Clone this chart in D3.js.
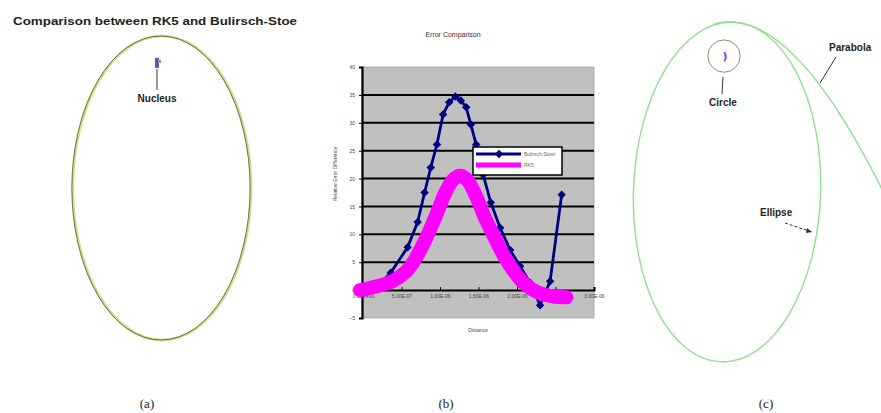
<!DOCTYPE html>
<html>
<head>
<meta charset="utf-8">
<script src="https://cdn.jsdelivr.net/npm/d3@7"></script>
<style>
  body { margin: 0; background: #fff; }
  svg { display: block; }
  .tiny text { font-family: "Liberation Sans", Arial, sans-serif; }
</style>
</head>
<body>
<svg width="881" height="413"></svg>
<script>
// ---- data ----
// panel (b): error comparison, x in units of 1e-6
var xTicks = [0, 0.5, 1, 1.5, 2, 2.5, 3];
var xTickLabels = ["0.00E+00", "5.00E-07", "1.00E-06", "1.50E-06", "2.00E-06", "2.50E-06", "3.00E-06"];
var yTicks = [-5, 0, 5, 10, 15, 20, 25, 30, 35, 40];
var seriesNames = ["Bulirsch-Stoer", "RK5"];

var bsX = [0.16, 0.36, 0.58, 0.71, 0.8, 0.88, 0.96, 1.04, 1.12, 1.2, 1.27, 1.34, 1.4, 1.47, 1.56, 1.66, 1.78, 1.91, 2.04, 2.17, 2.3, 2.43, 2.58];
var bsY = [0.2, 3.1, 7.7, 12.2, 17.5, 22, 26.1, 31.5, 33.7, 34.7, 34, 32.8, 29.7, 26.1, 20.7, 15.7, 11.2, 7.2, 4.3, 1.3, -2.7, 1.6, 17.1];

var rkX = [-0.04, 0.18, 0.38, 0.55, 0.68, 0.81, 0.94, 1.07, 1.17, 1.26, 1.35, 1.46, 1.58, 1.71, 1.84, 1.97, 2.1, 2.27, 2.46, 2.64];
var rkY = [0, 0.7, 1.6, 3.2, 5.6, 9.0, 13.1, 17.5, 19.8, 20.5, 19.8, 17.1, 13.1, 9.4, 5.9, 3.2, 1.1, -0.4, -1.1, -1.3];

// panel (a): orbit (semi-major axis 1), eccentricity
var orbitA = { a: 1, e: 0.81 };
// panel (c): ellipse, circle and parabola about one nucleus
var orbitC = { a: 1, e: 0.835 };
var circleC = { r: 0.095 };
var parabolaC = { q: 0.165, tilt: -5, thetaFrom: -24, thetaTo: 140 };

var captions = ["(a)", "(b)", "(c)"];

var svg = d3.select("svg");

// ---------------- panel (a) ----------------
var ga = svg.append("g");
ga.append("text")
  .attr("x", 13).attr("y", 25)
  .attr("textLength", 284).attr("lengthAdjust", "spacingAndGlyphs")
  .style("font-family", "Liberation Sans, Arial, sans-serif")
  .style("font-weight", "bold").style("font-size", "10.5px")
  .style("fill", "#222")
  .text("Comparison between RK5 and Bulirsch-Stoe");

var sa = d3.scaleLinear().domain([0, 1]).range([0, 152]);
var bA = orbitA.a * Math.sqrt(1 - orbitA.e * orbitA.e);
var caX = 161, caY = 188;
ga.append("ellipse")
  .attr("cx", caX + 1).attr("cy", caY)
  .attr("rx", sa(bA)).attr("ry", sa(orbitA.a))
  .attr("fill", "none").attr("stroke", "#c8e08a").attr("stroke-width", 2.6);
ga.append("ellipse")
  .attr("cx", caX).attr("cy", caY)
  .attr("rx", sa(bA)).attr("ry", sa(orbitA.a))
  .attr("fill", "none").attr("stroke", "#7d6a45").attr("stroke-width", 1);

var nucAy = caY - sa(orbitA.a * orbitA.e);
ga.append("rect")
  .attr("x", caX - 6).attr("y", nucAy - 7).attr("width", 4).attr("height", 10)
  .attr("fill", "#5a5aa8");
ga.append("rect")
  .attr("x", caX - 3).attr("y", nucAy - 5).attr("width", 3).attr("height", 3)
  .attr("fill", "#8a8ad0");
ga.append("line")
  .attr("x1", caX - 4).attr("x2", caX - 4)
  .attr("y1", nucAy + 4).attr("y2", nucAy + 25)
  .attr("stroke", "#333").attr("stroke-width", 1);
ga.append("text")
  .attr("x", caX - 4).attr("y", nucAy + 37)
  .attr("text-anchor", "middle")
  .style("font-family", "Liberation Sans, Arial, sans-serif")
  .style("font-size", "10px").style("font-weight", "bold").style("fill", "#222")
  .text("Nucleus");

// ---------------- panel (b) ----------------
var gb = svg.append("g").attr("class", "tiny");
var x = d3.scaleLinear().domain([0, 3]).range([363, 594]);
var y = d3.scaleLinear().domain([-5, 40]).range([318, 67]);

gb.append("rect")
  .attr("x", x(0) - 1).attr("y", y(40))
  .attr("width", x(3) - x(0) + 1).attr("height", y(-5) - y(40))
  .attr("fill", "#c0c0c0").attr("stroke", "#a0a0a0").attr("stroke-width", 0.8);

gb.selectAll("line.grid")
  .data(yTicks.filter(function (d) { return d > 0 && d < 40; }))
  .enter().append("line")
  .attr("class", "grid")
  .attr("x1", x(0)).attr("x2", x(3))
  .attr("y1", function (d) { return y(d); })
  .attr("y2", function (d) { return y(d); })
  .attr("stroke", "#000").attr("stroke-width", 2);

var yAxis = gb.append("g")
  .attr("transform", "translate(" + (x(0) - 1) + ",0)")
  .call(d3.axisLeft(y).tickValues(yTicks).tickSize(3).tickPadding(4));
yAxis.select(".domain").attr("stroke-width", 2.2);
yAxis.selectAll("text").style("font-size", "5px").style("fill", "#444");

var xAxis = gb.append("g")
  .attr("transform", "translate(0," + y(0) + ")")
  .call(d3.axisBottom(x).tickValues(xTicks).tickSize(-3).tickPadding(4)
    .tickFormat(function (d, i) { return xTickLabels[i]; }));
xAxis.select(".domain").attr("stroke-width", 2);
xAxis.selectAll("text").style("font-size", "5px").style("fill", "#444");

gb.append("text")
  .attr("x", 453).attr("y", 37).attr("text-anchor", "middle")
  .style("font-size", "7px").style("fill", "#333")
  .text("Error Comparison");
gb.append("text")
  .attr("transform", "translate(337,174) rotate(-90)")
  .attr("text-anchor", "middle")
  .style("font-size", "5px").style("fill", "#444")
  .text("Relative Error Difference");
gb.append("text")
  .attr("x", 478).attr("y", 332).attr("text-anchor", "middle")
  .style("font-size", "5px").style("fill", "#444")
  .text("Distance");

var bsData = bsX.map(function (d, i) { return [d, bsY[i]]; });
var rkData = rkX.map(function (d, i) { return [d, rkY[i]]; });
var line = d3.line()
  .x(function (d) { return x(d[0]); })
  .y(function (d) { return y(d[1]); });

gb.append("path")
  .attr("d", line(bsData))
  .attr("fill", "none").attr("stroke", "#000080").attr("stroke-width", 2.8);
var diamond = d3.symbol().type(d3.symbolSquare).size(36);
gb.selectAll("path.bs")
  .data(bsData).enter().append("path")
  .attr("class", "bs")
  .attr("d", diamond)
  .attr("transform", function (d) { return "translate(" + x(d[0]) + "," + y(d[1]) + ") rotate(45)"; })
  .attr("fill", "#000080");

gb.append("path")
  .attr("d", line.curve(d3.curveCatmullRom)(rkData))
  .attr("fill", "none").attr("stroke", "#ff00ff").attr("stroke-width", 14)
  .attr("stroke-linejoin", "round").attr("stroke-linecap", "round");

// legend
var lg = gb.append("g").attr("transform", "translate(473,147)");
lg.append("rect").attr("width", 89).attr("height", 28)
  .attr("fill", "#fff").attr("stroke", "#000").attr("stroke-width", 1.5);
lg.append("line").attr("x1", 3).attr("x2", 48).attr("y1", 7).attr("y2", 7)
  .attr("stroke", "#000080").attr("stroke-width", 3);
lg.append("path").attr("d", diamond)
  .attr("transform", "translate(26,7) rotate(45)").attr("fill", "#000080");
lg.append("line").attr("x1", 3).attr("x2", 48).attr("y1", 18).attr("y2", 18)
  .attr("stroke", "#ff00ff").attr("stroke-width", 5);
lg.selectAll("text.lg")
  .data(seriesNames).enter().append("text")
  .attr("x", 51).attr("y", function (d, i) { return 9 + i * 11; })
  .style("font-size", "5px").style("fill", "#666")
  .text(function (d) { return d; });

// ---------------- panel (c) ----------------
var gc = svg.append("g");
var sc = d3.scaleLinear().domain([0, 1]).range([0, 170]);
var ccX = 727, ccY = 192;
var bC = orbitC.a * Math.sqrt(1 - orbitC.e * orbitC.e);
gc.append("ellipse")
  .attr("cx", ccX).attr("cy", ccY)
  .attr("rx", sc(bC)).attr("ry", sc(orbitC.a))
  .attr("transform", "rotate(2," + ccX + "," + ccY + ")")
  .attr("fill", "none").attr("stroke", "#8fe08f").attr("stroke-width", 1.4);

var fx = ccX, fy = ccY - sc(orbitC.a * orbitC.e);
var thetas = d3.range(parabolaC.thetaFrom, parabolaC.thetaTo + 1, 2);
var parPts = thetas.map(function (t) {
  var th = t * Math.PI / 180;
  var r = sc(2 * parabolaC.q / (1 + Math.cos(th)));
  var ang = th + parabolaC.tilt * Math.PI / 180;
  return [fx + r * Math.sin(ang), fy - r * Math.cos(ang)];
});
gc.append("path")
  .attr("d", d3.line().curve(d3.curveCardinal)(parPts))
  .attr("fill", "none").attr("stroke", "#8fe08f").attr("stroke-width", 1.4);

gc.append("circle")
  .attr("cx", fx - 3).attr("cy", fy + 6).attr("r", sc(circleC.r))
  .attr("fill", "none").attr("stroke", "#7a9a6a").attr("stroke-width", 1);
gc.append("text")
  .attr("x", fx - 2).attr("y", fy + 10)
  .attr("text-anchor", "middle")
  .style("font-family", "DejaVu Sans, sans-serif").style("font-weight", "bold")
  .style("font-size", "11px").style("fill", "#7a3ccc")
  .text(")");
gc.append("line")
  .attr("x1", fx - 4).attr("x2", fx - 5)
  .attr("y1", fy + 27).attr("y2", fy + 44)
  .attr("stroke", "#333").attr("stroke-width", 1);

var lblStyle = function (sel) {
  sel.style("font-family", "Liberation Sans, Arial, sans-serif")
    .style("font-size", "10px").style("font-weight", "bold").style("fill", "#222");
};
gc.append("text").attr("x", fx - 4).attr("y", fy + 56)
  .attr("text-anchor", "middle").call(lblStyle).text("Circle");
gc.append("text").attr("x", 829).attr("y", 51).call(lblStyle).text("Parabola");
gc.append("line").attr("x1", 836).attr("y1", 57).attr("x2", 820).attr("y2", 83)
  .attr("stroke", "#333").attr("stroke-width", 1);
gc.append("text").attr("x", 760).attr("y", 216).call(lblStyle).text("Ellipse");
gc.append("line").attr("x1", 785).attr("y1", 223).attr("x2", 812).attr("y2", 232)
  .attr("stroke", "#333").attr("stroke-width", 1).attr("stroke-dasharray", "3,2");
gc.append("path").attr("d", "M812,232 l-5,-4 l-1,5 z").attr("fill", "#333");

// ---------------- captions ----------------
svg.selectAll("text.cap")
  .data(captions).enter().append("text")
  .attr("class", "cap")
  .attr("x", function (d, i) { return [147, 446, 766][i]; })
  .attr("y", 408)
  .attr("text-anchor", "middle")
  .style("font-family", "Liberation Serif, Times New Roman, serif")
  .style("font-size", "13px").style("fill", "#222")
  .text(function (d) { return d; });
</script>
</body>
</html>
